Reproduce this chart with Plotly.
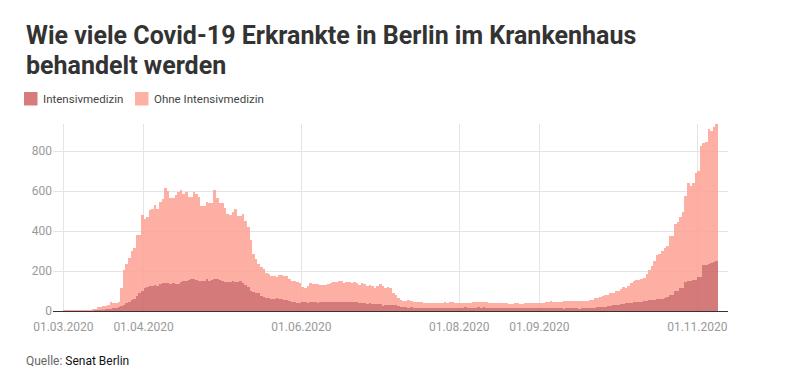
import plotly.graph_objects as go
import pandas as pd

# ---- data ----
start_datum = "2020-03-01"

gesamt = [
    4, 4, 4, 4, 4, 4, 4, 5, 5, 5,
    5, 8, 10, 18, 22, 27, 27, 28, 43, 42,
    40, 43, 113, 205, 235, 263, 300, 313, 380, 380,
    480, 458, 472, 505, 512, 530, 512, 547, 560, 613,
    602, 567, 567, 580, 597, 603, 587, 597, 568, 568,
    597, 585, 568, 525, 525, 547, 542, 538, 605, 565,
    542, 538, 513, 485, 480, 497, 510, 473, 473, 485,
    450, 422, 355, 285, 258, 235, 222, 208, 188, 185,
    177, 173, 170, 182, 180, 173, 175, 160, 150, 150,
    147, 140, 122, 117, 127, 138, 133, 133, 135, 130,
    130, 128, 133, 138, 143, 143, 150, 152, 142, 143,
    147, 138, 143, 138, 130, 138, 133, 127, 130, 127,
    113, 125, 133, 127, 117, 120, 117, 92, 80, 65,
    55, 50, 50, 53, 50, 47, 45, 43, 43, 40,
    40, 40, 40, 41, 42, 42, 42, 43, 42, 44,
    43, 42, 42, 42, 41, 42, 42, 41, 43, 44,
    44, 45, 44, 45, 42, 42, 41, 40, 40, 41,
    38, 38, 37, 37, 38, 38, 37, 37, 38, 38,
    38, 38, 39, 40, 42, 42, 43, 47, 48, 47,
    47, 47, 47, 48, 48, 52, 48, 50, 50, 50,
    50, 52, 52, 55, 55, 63, 63, 68, 75, 80,
    80, 88, 88, 102, 102, 108, 118, 113, 125, 138,
    152, 155, 155, 158, 165, 185, 205, 225, 250, 280,
    285, 298, 315, 323, 373, 373, 435, 445, 468, 495,
    575, 642, 625, 638, 692, 702, 825, 842, 843, 908,
    900, 920, 935,
]

intensiv = [
    1, 1, 1, 1, 1, 2, 2, 2, 2, 3,
    3, 4, 5, 5, 6, 6, 9, 10, 11, 14,
    16, 20, 23, 30, 38, 47, 55, 62, 75, 88,
    100, 115, 122, 125, 127, 130, 125, 135, 140, 138,
    140, 135, 138, 135, 133, 143, 150, 150, 155, 158,
    162, 155, 150, 152, 152, 158, 152, 155, 158, 160,
    155, 150, 147, 145, 143, 152, 147, 143, 150, 138,
    130, 122, 102, 97, 92, 88, 75, 70, 67, 63,
    60, 62, 63, 60, 58, 56, 54, 50, 45, 43,
    42, 42, 43, 44, 42, 43, 45, 44, 42, 43,
    44, 45, 46, 47, 47, 46, 45, 47, 46, 47,
    45, 43, 44, 43, 42, 38, 38, 37, 38, 37,
    35, 35, 34, 27, 28, 30, 30, 29, 28, 25,
    22, 18, 18, 17, 18, 17, 17, 16, 17, 16,
    15, 14, 13, 13, 14, 15, 15, 14, 13, 13,
    14, 15, 16, 17, 17, 18, 17, 17, 16, 17,
    18, 17, 18, 17, 16, 15, 14, 13, 13, 14,
    13, 14, 15, 16, 17, 17, 16, 17, 16, 15,
    15, 14, 15, 15, 14, 15, 15, 14, 14, 13,
    13, 13, 13, 12, 13, 13, 14, 13, 13, 12,
    13, 13, 14, 15, 16, 17, 18, 18, 19, 22,
    24, 25, 28, 30, 31, 34, 36, 40, 42, 42,
    43, 45, 45, 47, 50, 52, 55, 55, 57, 60,
    60, 62, 65, 68, 80, 82, 100, 102, 113, 115,
    147, 150, 152, 153, 155, 168, 170, 230, 232, 236,
    240, 245, 248,
]

serien_namen = ["Intensivmedizin", "Ohne Intensivmedizin"]
titel_zeilen = ["Wie viele Covid-19 Erkrankte in Berlin im Krankenhaus", "behandelt werden"]
tick_daten = ["2020-03-01", "2020-04-01", "2020-06-01", "2020-08-01", "2020-09-01", "2020-11-01"]
tick_texte = ["01.03.2020", "01.04.2020", "01.06.2020", "01.08.2020", "01.09.2020", "01.11.2020"]
y_ticks = [0, 200, 400, 600, 800]

n = min(len(gesamt), len(intensiv))
ohne = [gesamt[k] - intensiv[k] for k in range(n)]
tage = pd.date_range(start_datum, periods=n, freq="D")

# ---- styling ----
FARBE_DUNKEL = "rgb(209,108,108)"
FARBE_HELL = "rgb(253,167,154)"
SWATCH_DUNKEL = "rgb(215,124,124)"
SWATCH_HELL = "rgb(253,177,165)"
TAG_MS = 86400000
FONT = "Roboto"

OFF = 8  # default page margin of the html body
W, H = 784, 374
L, T = 53 - OFF, 124 - OFF
R = W - (728 - OFF)
B = H - (311 - OFF)
PW, PH = W - L - R, H - T - B


def px(page_x):
    return (page_x - OFF - L) / PW


def py(page_y):
    return (H - B - (page_y - OFF)) / PH


fig = go.Figure()
fig.add_bar(
    x=tage, y=intensiv[:n], name=serien_namen[0],
    marker=dict(color=FARBE_DUNKEL, line=dict(width=0)),
    width=TAG_MS, offset=0, opacity=0.9,
)
fig.add_bar(
    x=tage, y=ohne, name=serien_namen[1],
    marker=dict(color=FARBE_HELL, line=dict(width=0)),
    width=TAG_MS, offset=0, opacity=0.9,
)

fig.update_layout(
    width=W, height=H,
    margin=dict(l=L, r=R, t=T, b=B, pad=0),
    barmode="stack", bargap=0,
    showlegend=False,
    paper_bgcolor="white", plot_bgcolor="white",
    font=dict(family=FONT, color="#333"),
    xaxis=dict(
        type="date",
        range=["2020-02-26 00:30", "2020-11-12 20:40"],
        tickvals=tick_daten, ticktext=tick_texte,
        showgrid=True, gridcolor="#e4e4e4", gridwidth=1,
        showline=True, linecolor="#333", linewidth=1.2,
        ticks="", ticklabelstandoff=4,
        tickfont=dict(family=FONT, size=12, color="#999"),
        zeroline=False, fixedrange=True,
    ),
    yaxis=dict(
        range=[0, 935],
        tickvals=y_ticks,
        showgrid=True, gridcolor="#e4e4e4", gridwidth=1,
        zeroline=False, showline=False,
        ticks="", tickfont=dict(family=FONT, size=12, color="#999"),
        fixedrange=True,
    ),
)

# title (two lines)
fig.add_annotation(x=px(24), y=py(36), xref="paper", yref="paper",
                   text=titel_zeilen[0], showarrow=False, xanchor="left", yanchor="middle",
                   font=dict(family=FONT, size=25, color="#333", weight="bold"))
fig.add_annotation(x=px(24), y=py(65), xref="paper", yref="paper",
                   text=titel_zeilen[1], showarrow=False, xanchor="left", yanchor="middle",
                   font=dict(family=FONT, size=25, color="#333", weight="bold"))

# custom legend
shapes = [
    dict(type="rect", xref="paper", yref="paper",
         x0=px(24), x1=px(37.5), y0=py(105.5), y1=py(92),
         fillcolor=SWATCH_DUNKEL, line=dict(width=0)),
    dict(type="rect", xref="paper", yref="paper",
         x0=px(135), x1=px(148.5), y0=py(105.5), y1=py(92),
         fillcolor=SWATCH_HELL, line=dict(width=0)),
]
fig.update_layout(shapes=shapes)

fig.add_annotation(x=px(41), y=py(99), xref="paper", yref="paper",
                   text=serien_namen[0], showarrow=False, xanchor="left", yanchor="middle",
                   font=dict(family=FONT, size=11.5, color="#444"))
fig.add_annotation(x=px(152), y=py(99), xref="paper", yref="paper",
                   text=serien_namen[1], showarrow=False, xanchor="left", yanchor="middle",
                   font=dict(family=FONT, size=11.5, color="#444"))
fig.add_annotation(x=px(24), y=py(361), xref="paper", yref="paper",
                   text="<span style='color:#666'>Quelle:</span> Senat Berlin",
                   showarrow=False, xanchor="left", yanchor="middle",
                   font=dict(family=FONT, size=12, color="#111"))

fig.write_html("out.html")
